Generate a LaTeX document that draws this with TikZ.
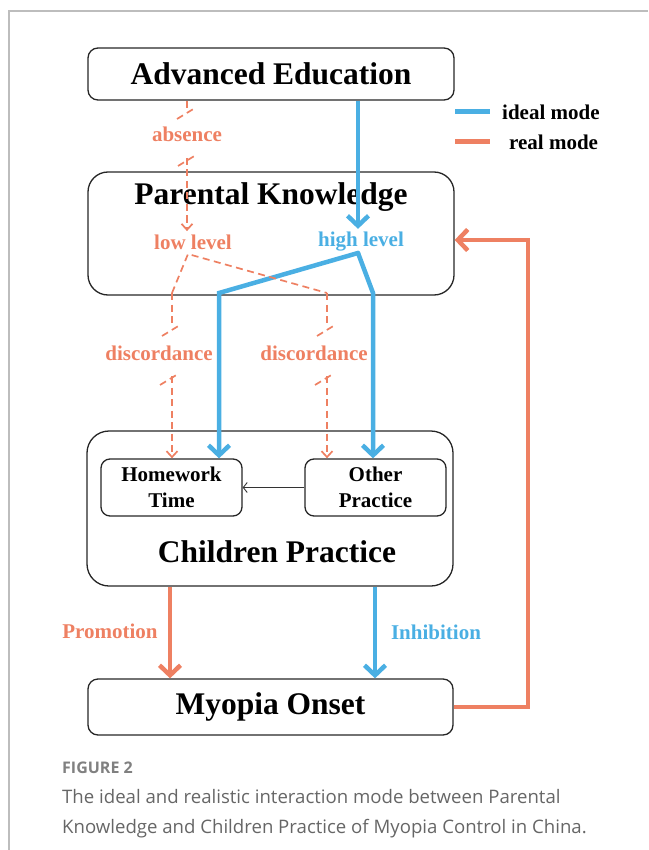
\documentclass[tikz,border=0pt]{standalone}
\usepackage{fontspec}
\setmainfont{Liberation Serif}
\newfontfamily\capfont{Open Sans}
\usetikzlibrary{arrows.meta}
\definecolor{ideal}{HTML}{4AAFE3}
\definecolor{real}{HTML}{EE8062}
\definecolor{framegray}{HTML}{BDBDBD}
\definecolor{capgray}{HTML}{666666}
\definecolor{figgray}{HTML}{808080}
\begin{document}
\begin{tikzpicture}[x=1pt,y=-1pt,
  box/.style={draw=black!85, line width=1.3pt, inner sep=0pt},
  big/.style={font=\fontsize{31.5}{36}\selectfont\bfseries},
  small/.style={font=\fontsize{21}{26}\selectfont\bfseries, align=center},
  idealline/.style={draw=ideal, line width=4.5pt},
  realline/.style={draw=real, line width=4.5pt},
  thickhead/.style={-{Straight Barb[length=10pt,width=21pt]}},
  dashline/.style={draw=real, line width=1.7pt, dash pattern=on 7pt off 4.5pt},
  dashhead/.style={-{Straight Barb[length=6pt,width=11pt]}},
  capline/.style={anchor=base west, inner sep=0pt, font=\capfont\fontsize{18.6}{22}\selectfont, text=capgray},
]
\useasboundingbox (0,0) rectangle (648,850);
% panel frame
\draw[framegray, line width=2pt] (9,850) -- (9,11) -- (648,11);

% boxes
\node[box, big, rounded corners=10pt, minimum width=366pt, minimum height=52pt] (ae) at (271,74) {Advanced Education};
\node[box, rounded corners=20pt, minimum width=366pt, minimum height=123pt] (pk) at (271,233.5) {};
\node[big] (pkt) at (271,197) {Parental Knowledge};
\node[box, rounded corners=22pt, minimum width=366pt, minimum height=155pt] (cp) at (270,508.5) {};
\node[big] (cpt) at (277,552) {Children Practice};
\node[box, small, rounded corners=9pt, minimum width=141pt, minimum height=57pt] (hw) at (171.5,487.5) {Homework\\Time};
\node[box, small, rounded corners=9pt, minimum width=141pt, minimum height=57pt] (op) at (375.5,487.5) {Other\\Practice};
\node[box, big, rounded corners=10pt, minimum width=365pt, minimum height=56pt] (mo) at (270.5,707) {Myopia Onset};

% labels
\node[small, text=real] (ab) at (187,134) {absence};
\node[small, text=real] (ll) at (193,242) {low level};
\node[small, text=ideal] (hl) at (361,242) {high level};
\node[small, text=real] (dl) at (159,353) {discordance};
\node[small, text=real] (dr) at (314,353) {discordance};
\node[small, text=real] (prom) at (110,631) {Promotion};
\node[small, text=ideal] (inh) at (436,632) {Inhibition};

% legend
\coordinate (lg1a) at (455,112); \coordinate (lg1b) at (490,112);
\coordinate (lg2a) at (455,142); \coordinate (lg2b) at (490,142);
\draw[idealline, line width=5pt] (lg1a) -- (lg1b);
\draw[realline, line width=5pt] (lg2a) -- (lg2b);
\node[small, anchor=west, inner sep=0pt] (lgi) at (502,112) {ideal mode};
\node[small, anchor=west, inner sep=0pt] (lgr) at (509,142) {real mode};

% ideal mode (blue)
\coordinate (bapex) at (358,253);
\coordinate (bl) at (219,293);
\coordinate (br) at (373,293);
\draw[idealline, thickhead] (ae.south -| bapex) -- (bapex |- hl.north);
\draw[idealline, thickhead, line cap=round] (bapex) -- (bl) -- (bl |- hw.north);
\draw[idealline, thickhead, line cap=round] (bapex) -- (br) -- (br |- op.north);

% real mode (dashed orange)
\coordinate (ax) at (187,0);
\draw[dashline] (ae.south -| ax) -- (187,109);
\draw[dashline] (177,119) -- (195,108);
\draw[dashline] (178,166) -- (196,155);
\draw[dashline, dashhead] (187,158) -- (ax |- ll.north);

\coordinate (ra) at (188,254);
\coordinate (rl) at (172,293);
\coordinate (rr) at (327,293);
\draw[dashline] (rl) -- (ra) -- (rr);
\draw[dashline] (rl) -- (172,325);
\draw[dashline] (162,336) -- (180,325);
\draw[dashline] (160,385) -- (178,374);
\draw[dashline, dashhead] (172,376) -- (rl |- hw.north);
\draw[dashline] (rr) -- (327,325);
\draw[dashline] (317,336) -- (335,325);
\draw[dashline] (315,385) -- (333,374);
\draw[dashline, dashhead] (327,376) -- (rr |- op.north);

% other practice -> homework time
\draw[draw=black!80, line width=0.9pt, -{Straight Barb[length=4pt,width=10pt]}] (op.west) -- (hw.east);

% children practice -> myopia onset
\coordinate (px) at (170,0);
\coordinate (ix) at (375,0);
\draw[realline, thickhead] (cp.south -| px) -- (mo.north -| px);
\draw[idealline, thickhead] (cp.south -| ix) -- (mo.north -| ix);

% feedback
\coordinate (fb) at (528,240);
\draw[realline, thickhead] (mo.east) -| (fb) -- (fb -| pk.east);

% caption
\node[anchor=base west, inner sep=0pt, font=\capfont\bfseries\fontsize{16}{18}\selectfont, text=figgray] (fig) at (62,773) {FIGURE 2};
\node[capline] (cap1) at (62,803) {The ideal and realistic interaction mode between Parental};
\node[capline] (cap2) at (62,833) {Knowledge and Children Practice of Myopia Control in China.};
\end{tikzpicture}
\end{document}
